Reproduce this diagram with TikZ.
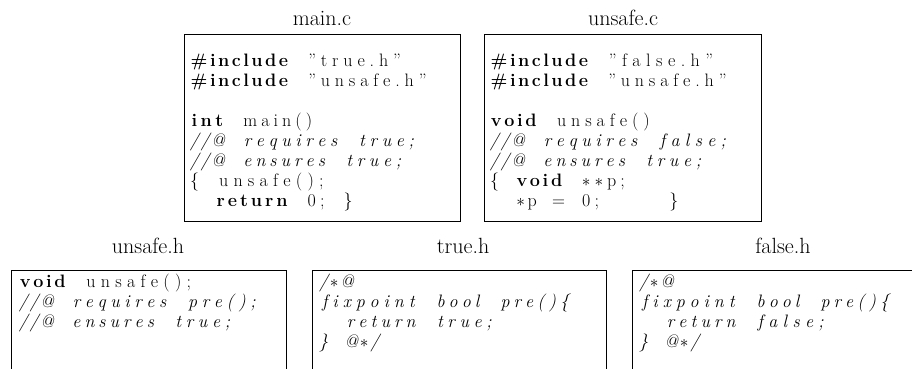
\documentclass[tikz,border=0pt]{standalone}
\usepackage{fontspec}
\setmainfont{Latin Modern Roman}

% Fixed-column code: each word is set in a box of (#chars x \colw),
% its letters spread evenly with \hss; each ~ is one empty column.
\newlength\colw
\setlength\colw{12.8pt}
\newcount\fxn
\newtoks\fxtoks
\makeatletter
\def\fx@stop{fx@stop}
\def\fx#1{\fxn=0 \fxtoks{}\fx@loop#1\fx@stop}
\def\fx@flush{\ifnum\fxn>0 \hbox to \fxn\colw{\the\fxtoks\hss}\fi\fxn=0 \fxtoks{}}
\def\fx@loop#1{%
  \ifx#1\fx@stop
    \fx@flush\let\fx@next\relax
  \else\ifx#1~%
    \fx@flush\hbox to \colw{\hss}\let\fx@next\fx@loop
  \else
    \advance\fxn by 1 \fxtoks\expandafter{\the\fxtoks\hss#1}\let\fx@next\fx@loop
  \fi\fi\fx@next}
\makeatother
\newcommand\cast{\ensuremath{\ast}}
\newcommand\kw[1]{{\bfseries\fx{#1}}}
\newcommand\cm[1]{{\itshape\fx{#1}}}

\tikzset{
  filebox/.style={draw=black, line width=0.9pt, inner sep=0pt, anchor=north west},
  filetitle/.style={font=\fontsize{22}{26}\selectfont, inner sep=0pt},
  code/.style={font=\fontsize{18}{20}\selectfont, align=left, inner sep=0pt, anchor=north west},
}

\begin{document}
\begin{tikzpicture}[x=1pt, y=-1pt]
\useasboundingbox (0,0) rectangle (912,368);
\clip (0,0) rectangle (912,368);

% --- source files ---
\node[filetitle] (mainc-title) at (322,18) {main.c};
\node[filebox, minimum width=276pt, minimum height=187pt] (mainc) at (184,34) {};
\node[code] (mainc-code) at ([shift={(4,19.5)}]mainc.north west) {%
\kw{\#include}\fx{~”true.h”}\\
\kw{\#include}\fx{~”unsafe.h”}\\
\mbox{}\\
\kw{int}\fx{~main()}\\
\cm{//@~requires~true;}\\
\cm{//@~ensures~true;}\\
\fx{\{~unsafe();}\\
\fx{~~}\kw{return}\fx{~0;~\}}};

\node[filetitle] (unsafec-title) at (623,18) {unsafe.c};
\node[filebox, minimum width=277pt, minimum height=187pt] (unsafec) at (484,34) {};
\node[code] (unsafec-code) at ([shift={(4,19.5)}]unsafec.north west) {%
\kw{\#include}\fx{~”false.h”}\\
\kw{\#include}\fx{~”unsafe.h”}\\
\mbox{}\\
\kw{void}\fx{~unsafe()}\\
\cm{//@~requires~false;}\\
\cm{//@~ensures~true;}\\
\fx{\{~}\kw{void}\fx{~\cast\cast p;}\\
\fx{~~\cast p~=~0;~~~~~\}}};

% --- headers ---
\node[filetitle] (unsafeh-title) at (148,246) {unsafe.h};
\node[filebox, minimum width=275pt, minimum height=110pt] (unsafeh) at (11,270) {};
\node[code] (unsafeh-code) at ([shift={(6,3.5)}]unsafeh.north west) {%
\kw{void}\fx{~unsafe();}\\
\cm{//@~requires~pre();}\\
\cm{//@~ensures~true;}};

\node[filetitle] (trueh-title) at (463,246) {true.h};
\node[filebox, minimum width=294pt, minimum height=110pt] (trueh) at (312,270) {};
\node[code] (trueh-code) at ([shift={(5,3.5)}]trueh.north west) {%
\cm{/\cast @}\\
\cm{fixpoint~bool~pre()\{}\\
\cm{~~return~true;}\\
\cm{\}~@\cast /}};

\node[filetitle] (falseh-title) at (783,246) {false.h};
\node[filebox, minimum width=294pt, minimum height=110pt] (falseh) at (632,270) {};
\node[code] (falseh-code) at ([shift={(5,3.5)}]falseh.north west) {%
\cm{/\cast @}\\
\cm{fixpoint~bool~pre()\{}\\
\cm{~~return~false;}\\
\cm{\}~@\cast /}};
\end{tikzpicture}
\end{document}
